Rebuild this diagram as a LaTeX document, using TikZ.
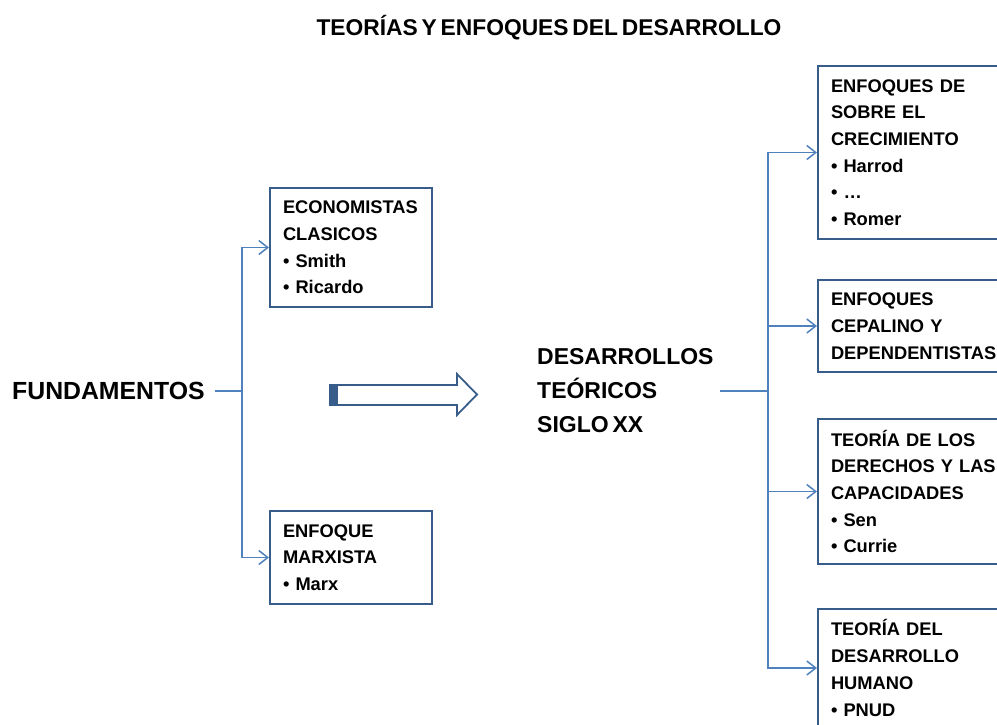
\documentclass[tikz,border=0pt]{standalone}
\usepackage{fontspec}
\setmainfont{Liberation Sans}[WordSpace=0.6]
\usetikzlibrary{arrows.meta}
\hyphenpenalty=10000
\definecolor{connblue}{HTML}{4F81BD}
\definecolor{boxblue}{HTML}{385D8A}
\tikzset{
  conn/.style={draw=connblue, line width=1.8pt},
  arr/.style={conn, -{Straight Barb[length=9pt,width=14pt,line width=1.5pt]}},
  infobox/.style={draw=boxblue, line width=2pt, anchor=north west, align=left,
     inner xsep=13pt, inner ysep=4pt,
     font=\bfseries\fontsize{18.3}{26.7}\selectfont},
  bigtext/.style={align=left, inner sep=0pt, font=\bfseries\fontsize{23}{34}\selectfont},
}
\begin{document}
\begin{tikzpicture}[x=1pt,y=-1pt]
\useasboundingbox (0,0) rectangle (997,724);
\clip (0,0) rectangle (997,724);

\node[inner sep=0pt, anchor=base, font=\bfseries\fontsize{22.8}{26}\selectfont] (title) at (549,35) {TEORÍAS Y ENFOQUES DEL DESARROLLO};

\node[bigtext, font=\bfseries\fontsize{24.8}{30}\selectfont, anchor=west] (fund) at (12,391) {FUNDAMENTOS};

\node[infobox, text width=136pt, minimum height=119pt] (eco) at (269,187)
  {ECONOMISTAS\\CLASICOS\\• Smith\\• Ricardo};
\node[infobox, text width=136pt, minimum height=93pt] (marx) at (269,510)
  {ENFOQUE\\MARXISTA\\• Marx};

\draw[conn] ([xshift=10pt]fund.east) -- ++(27,0) coordinate (jl);
\draw[arr] (jl) |- (eco.west);
\draw[arr] (jl) |- (marx.west);

% block arrow
\draw[draw=boxblue, fill=white, line width=1.8pt]
  (330,385) -- (457,385) -- (457,374) -- (477,394.5) -- (457,415) -- (457,405) -- (330,405) -- cycle;
\fill[boxblue] (330,385) rectangle (338,405);

\node[bigtext, anchor=west] (des) at (537,391) {DESARROLLOS\\TEÓRICOS\\SIGLO XX};

\node[infobox, text width=180pt, minimum height=173pt] (b1) at (817,65)
  {ENFOQUES DE\\SOBRE EL\\CRECIMIENTO\\• Harrod\\• …\\• Romer};
\node[infobox, text width=180pt, minimum height=92pt] (b2) at (817,279)
  {ENFOQUES\\CEPALINO Y\\DEPENDENTISTAS};
\node[infobox, text width=180pt, minimum height=145pt] (b3) at (817,418)
  {TEORÍA DE LOS\\DERECHOS Y LAS\\CAPACIDADES\\• Sen\\• Currie};
\node[infobox, text width=180pt, minimum height=118pt] (b4) at (817,608)
  {TEORÍA DEL\\DESARROLLO\\HUMANO\\• PNUD};

\draw[conn] ([xshift=6pt]des.east) -- (768,391) coordinate (jr);
\draw[arr] (jr) |- (b1.west);
\draw[arr] (jr) |- (b2.west);
\draw[arr] (jr) |- (b3.west);
\draw[arr] (jr) |- (b4.west);
\end{tikzpicture}
\end{document}
